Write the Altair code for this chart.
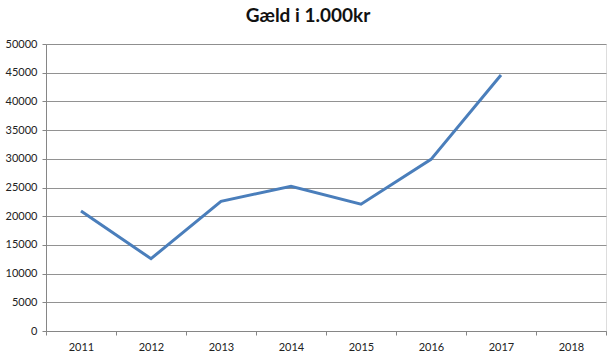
import altair as alt
import pandas as pd

years = ["2011", "2012", "2013", "2014", "2015", "2016", "2017", "2018"]
debt = [20900, 12600, 22600, 25200, 22100, 29900, 44600, None]
y_ticks = list(range(0, 50001, 5000))

df = pd.DataFrame({"year": years, "debt": debt})

grey = "#868686"

chart = (
    alt.Chart(df)
    .mark_line(color="#4a7ebb", strokeWidth=3)
    .encode(
        x=alt.X(
            "year:O",
            scale=alt.Scale(domain=years, paddingInner=0, paddingOuter=0),
            axis=alt.Axis(
                title=None,
                labelAngle=0,
                tickBand="extent",
                grid=False,
                domainColor=grey,
                tickColor=grey,
                tickSize=4,
                labelPadding=6,
                labelFont="Lato",
                labelFontSize=11,
                labelColor="#222222",
            ),
        ),
        y=alt.Y(
            "debt:Q",
            scale=alt.Scale(domain=[0, 50000], nice=False),
            axis=alt.Axis(
                title=None,
                values=y_ticks,
                format="d",
                grid=True,
                gridColor=grey,
                gridOpacity=0.9,
                domainColor=grey,
                tickColor=grey,
                tickSize=4,
                labelPadding=5,
                labelFont="Lato",
                labelFontSize=11,
                labelColor="#222222",
            ),
        ),
    )
    .properties(
        width=560,
        height=287,
        autosize=alt.AutoSizeParams(type="none"),
        padding={"left": 46, "top": 44, "right": 10, "bottom": 28},
        title=alt.TitleParams(
            "Gæld i 1.000kr",
            font="Lato",
            fontSize=19,
            fontWeight="bold",
            color="#111111",
            anchor="middle",
            dx=-18,
            offset=12,
        ),
    )
    .configure_view(stroke=None)
    .configure(background="white")
)

chart.save("out.html", embed_options={"renderer": "svg", "actions": False})
